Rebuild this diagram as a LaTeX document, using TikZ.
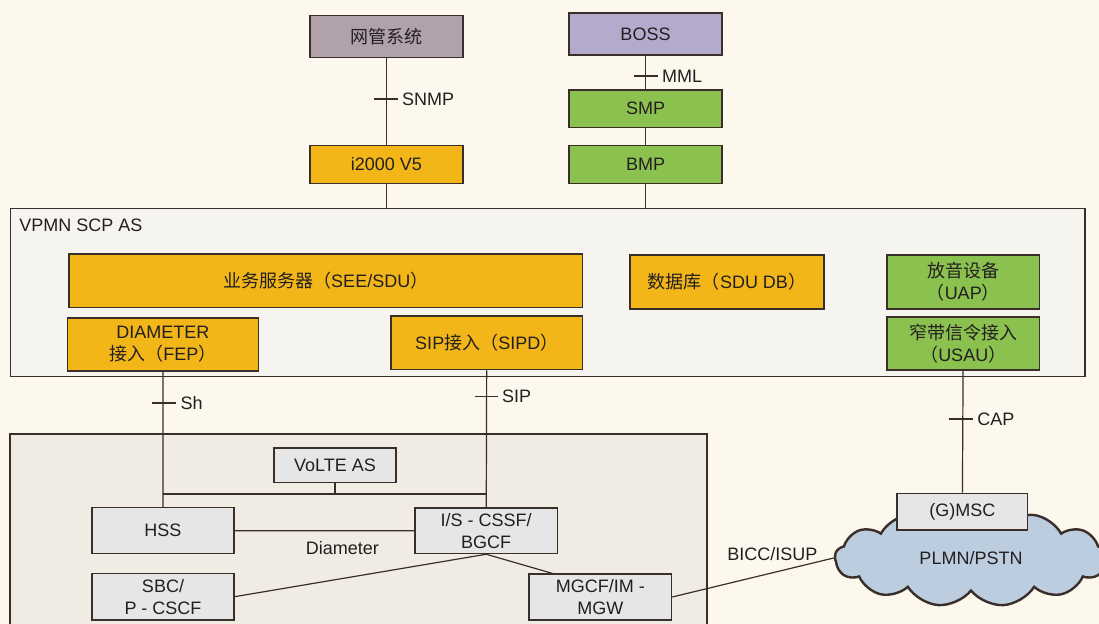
\documentclass[tikz,border=0pt]{standalone}
\usepackage{fontspec}
\setmainfont{Liberation Sans}
\newfontfamily\cjk{Noto Sans CJK SC}
\usepackage{tikz}
\usepackage{xcolor}
\usetikzlibrary{shapes.symbols, calc}
\definecolor{cPaper}{RGB}{252,248,237}
\definecolor{cPanel}{RGB}{246,244,238}
\definecolor{cIms}{RGB}{240,236,227}
\definecolor{cLine}{RGB}{58,46,42}
\definecolor{cText}{RGB}{35,31,32}
\definecolor{cMauve}{RGB}{177,161,171}
\definecolor{cLav}{RGB}{180,170,203}
\definecolor{cGold}{RGB}{242,182,25}
\definecolor{cGreen}{RGB}{139,193,78}
\definecolor{cGrey}{RGB}{230,230,230}
\definecolor{cSky}{RGB}{188,205,223}
\newcommand{\zh}[1]{{\cjk #1}}
\tikzset{
	box/.style      ={rectangle, draw=cLine, line width=0.8pt, align=center, text=cText, inner sep=1pt},
	size/.style 2 args={minimum width=#1, minimum height=#2},
	nmsbox/.style   ={box, fill=cMauve},
	bossbox/.style  ={box, fill=cLav},
	goldbox/.style  ={box, fill=cGold},
	greenbox/.style ={box, fill=cGreen},
	greybox/.style  ={box, fill=cGrey, line width=0.6pt},
	area/.style     ={rectangle, draw=cLine, line width=0.7pt},
	conn/.style     ={draw=cLine, line width=0.6pt},
	lbl/.style      ={text=cText, inner sep=2pt},
	net/.style      ={cloud, cloud puffs=13, cloud puff arc=110, cloud ignores aspect, inner sep=0pt, draw=cLine, line width=1.2pt, fill=cSky, text=cText},
}
\begin{document}
\begin{tikzpicture}[x=0.5pt, y=-0.5pt, font=\fontsize{9}{11}\selectfont]
	\useasboundingbox (0,0) rectangle (1099,624);
	\fill[cPaper] (0,0) rectangle (1099,624);
	\clip (0,0) rectangle (1099,624);
	% containers
	\node[area, fill=cPanel, size={537.25pt}{84.2pt}] (scp) at (547.75,292.5) {};
	\node[lbl, anchor=west] (scplbl) at (15,225) {VPMN SCP AS};
	\node[area, fill=cIms, size={348.5pt}{110pt}] (ims) at (358.5,544) {};
	% management side
	\node[nmsbox, size={76.5pt}{21pt}] (nms) at (386.5,36.7) {\zh{网管系统}};
	\node[goldbox, size={76.5pt}{19pt}] (i2k) at (386.5,164.5) {i2000 V5};
	\node[bossbox, size={76.5pt}{21pt}] (boss) at (645.5,34.2) {BOSS};
	\node[greenbox, size={76.5pt}{18.7pt}] (smp) at (645.5,108.7) {SMP};
	\node[greenbox, size={76.5pt}{19pt}] (bmp) at (645.5,164.5) {BMP};
	% VPMN SCP AS
	\node[goldbox, size={256.75pt}{26.65pt}] (see) at (325.75,280.7) {\zh{业务服务器（}SEE/SDU\zh{）}};
	\node[goldbox, size={97pt}{27pt}] (sdudb) at (727,282) {\zh{数据库（}SDU DB\zh{）}};
	\node[greenbox, size={76.25pt}{27pt}] (uap) at (963.25,282) {\zh{放音设备}\\\zh{（}UAP\zh{）}};
	\node[goldbox, size={95.5pt}{26.65pt}] (fep) at (162.9,344.4) {DIAMETER\\\zh{接入（}FEP\zh{）}};
	\node[goldbox, size={95.75pt}{26.7pt}] (sipd) at (486.75,343) {SIP\zh{接入（}SIPD\zh{）}};
	\node[greenbox, size={76.25pt}{26.65pt}] (usau) at (963.25,343.4) {\zh{窄带信令接入}\\\zh{（}USAU\zh{）}};
	% IMS side
	\node[greybox, size={61pt}{17.35pt}] (volte) at (335,465.3) {VoLTE AS};
	\node[greybox, size={71pt}{23pt}] (hss) at (163,530.7) {HSS};
	\node[greybox, size={71.2pt}{22.85pt}] (iscscf) at (486.2,530.8) {I/S - CSSF/\\BGCF};
	\node[greybox, size={71pt}{23.35pt}] (sbc) at (163,596.7) {SBC/\\P - CSCF};
	\node[greybox, size={71.35pt}{23pt}] (mgcf) at (600.3,597) {MGCF/IM -\\MGW};
	\node[net, size={136pt}{48.5pt}] (plmn) at (971,558) {PLMN/PSTN};
	\node[greybox, size={65.35pt}{18.35pt}] (gmsc) at (962.3,511.7) {(G)MSC};
	% connectors
	\draw[conn] (nms) -- (i2k) coordinate[pos=0.47] (tSnmp);
	\draw[conn] ($(tSnmp)+(-13,0)$) -- ($(tSnmp)+(11,0)$) node[lbl, right] {SNMP};
	\draw[conn] (i2k) -- (i2k.south |- scp.north);
	\draw[conn] (boss) -- (smp) coordinate[pos=0.6] (tMml);
	\draw[conn] ($(tMml)+(-12,0)$) -- ($(tMml)+(12,0)$) node[lbl, right] {MML};
	\draw[conn] (smp) -- (bmp);
	\draw[conn] (bmp) -- (bmp.south |- scp.north);
	\draw[conn] (fep) -- (hss) coordinate[pos=0.23] (tSh);
	\draw[conn] ($(tSh)+(-11,0)$) -- ($(tSh)+(13,0)$) node[lbl, right] {Sh};
	\draw[conn] (sipd) -- (iscscf) coordinate[pos=0.19] (tSip);
	\draw[conn] ($(tSip)+(-12,0)$) -- ($(tSip)+(11,0)$) node[lbl, right] {SIP};
	\draw[conn] (usau) -- (gmsc) coordinate[pos=0.395] (tCap);
	\draw[conn] ($(tCap)+(-14,0)$) -- ($(tCap)+(10,0)$) node[lbl, right] {CAP};
	\coordinate (jL) at (163,494);
	\coordinate (jR) at (486.5,494);
	\draw[conn] (jL) -- (jR);
	\draw[conn] (volte) -- (volte.south |- jL);
	\draw[conn] (hss) -- (iscscf) node[lbl, pos=0.6, below=3pt] {Diameter};
	\draw[conn] (iscscf.south) -- (sbc.east);
	\draw[conn] (iscscf.south) -- ($(mgcf.north west)+(24,0)$);
	\draw[conn] (mgcf.east) -- (plmn.west) node[lbl, pos=0.62, above=4pt] {BICC/ISUP};
\end{tikzpicture}
\end{document}
